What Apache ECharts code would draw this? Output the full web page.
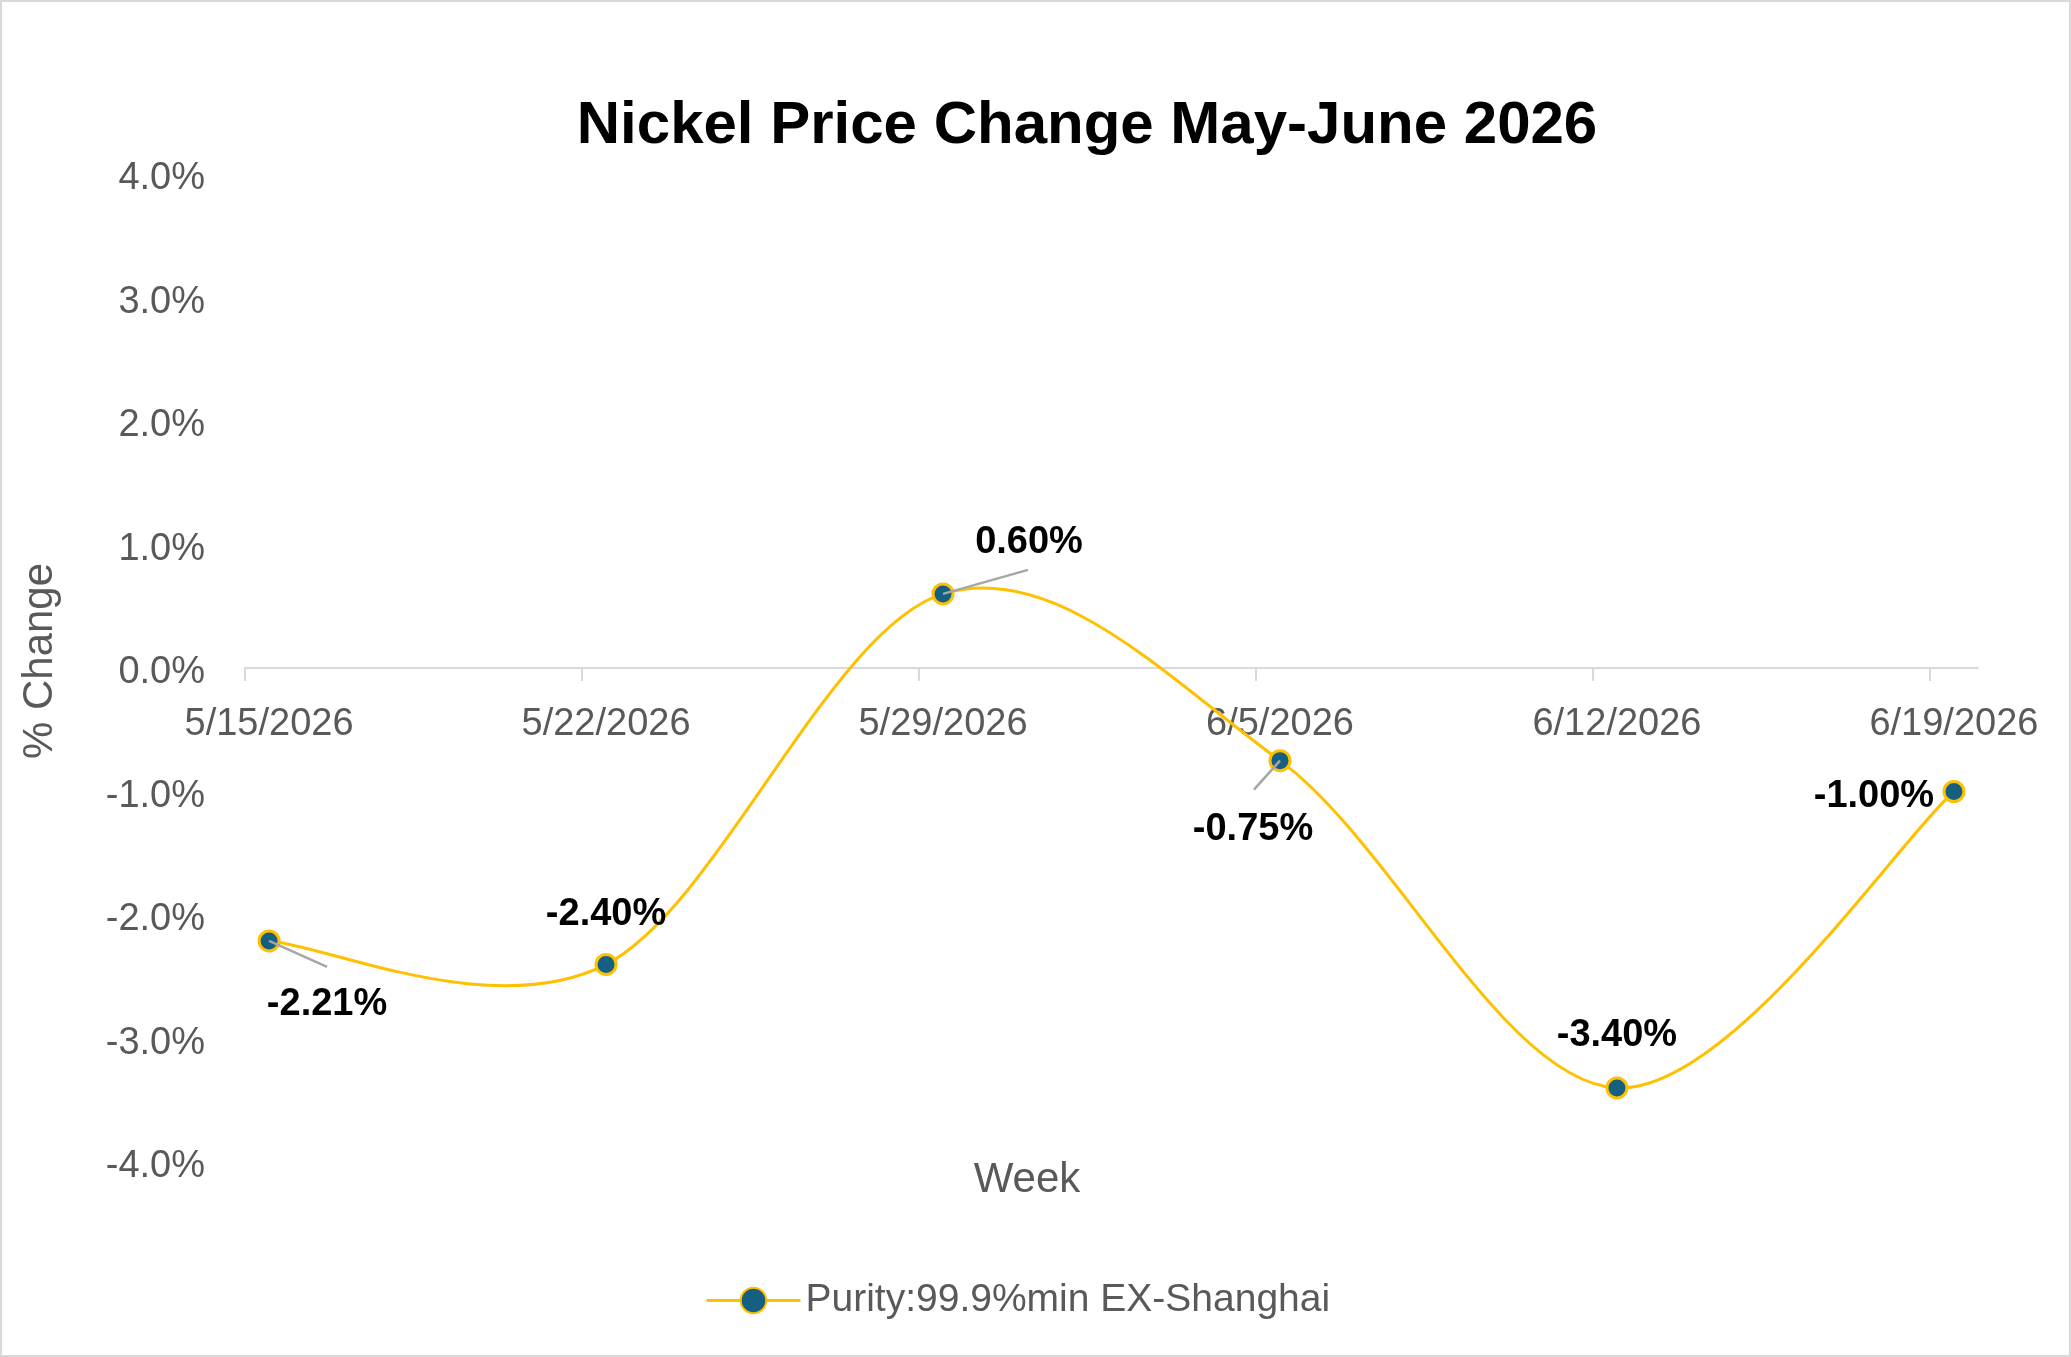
<!DOCTYPE html>
<html><head><meta charset="utf-8">
<script src="https://cdn.jsdelivr.net/npm/echarts@6/dist/echarts.min.js"></script>
<style>
html,body{margin:0;padding:0;background:#fff}
#c{position:absolute;left:0;top:0;width:2071px;height:1357px}
#frame{position:absolute;left:0;top:0;width:2071px;height:1357px;box-sizing:border-box;border:2px solid #d9d9d9;pointer-events:none}
</style>
</head><body><div id="c"></div><div id="frame"></div>
<script>
// ---- data ----
const weeks = ['5/15/2026', '5/22/2026', '5/29/2026', '6/5/2026', '6/12/2026', '6/19/2026'];
const changes = [-2.21, -2.40, 0.60, -0.75, -3.40, -1.00];
const yMin = -4, yMax = 4, yStep = 1;
const seriesName = 'Purity:99.9%min EX-Shanghai';
const chartTitle = 'Nickel Price Change May-June 2026';
const xTitle = 'Week';
const yTitle = '% Change';

// ---- layout (pixel offsets relative to each point) ----
const labelOffsets = [[58, 64], [0, -50], [86, -51], [-27, 69], [0, -52], [-80, 5]];
const leaderEnds = [[58, 26], null, [85, -24], [-26, 29], null, null];

function dayNum(s) { const p = s.split('/').map(Number); return Date.UTC(p[2], p[0] - 1, p[1]) / 86400000; }
const d0 = dayNum(weeks[0]);
const xs = weeks.map(w => dayNum(w) - d0);
const pts = xs.map((x, i) => [x, changes[i]]);

const FONT = '"Liberation Sans", Arial, sans-serif';
const GRAY = '#595959';
const GOLD = '#FFC000';
const TEAL = '#156082';

function clampIdx(k) { return Math.max(0, Math.min(pts.length - 1, k)); }

// Excel-like smoothed segment (Catmull-Rom style Bezier) drawn via the axes' scales
function renderCurve(params, api) {
  const i = params.dataIndex;
  if (i >= pts.length - 1) return null;
  const P = k => api.coord(pts[clampIdx(k)]);
  const p0 = P(i - 1), p1 = P(i), p2 = P(i + 1), p3 = P(i + 2);
  return {
    type: 'bezierCurve',
    shape: {
      x1: p1[0], y1: p1[1],
      cpx1: p1[0] + (p2[0] - p0[0]) / 6, cpy1: p1[1] + (p2[1] - p0[1]) / 6,
      cpx2: p2[0] - (p3[0] - p1[0]) / 6, cpy2: p2[1] - (p3[1] - p1[1]) / 6,
      x2: p2[0], y2: p2[1]
    },
    style: {stroke: GOLD, lineWidth: 3, fill: 'none'}
  };
}

function renderLeader(params, api) {
  const e = leaderEnds[params.dataIndex];
  if (!e) return null;
  const p = api.coord(pts[params.dataIndex]);
  return {
    type: 'line',
    shape: {x1: p[0], y1: p[1], x2: p[0] + e[0], y2: p[1] + e[1]},
    style: {stroke: '#A6A6A6', lineWidth: 2.5}
  };
}

const chart = echarts.init(document.getElementById('c'), null, {renderer: 'canvas'});
chart.setOption({
  animation: false,
  backgroundColor: '#fff',
  grid: {left: 245, right: 93, top: 174, bottom: 195, containLabel: false},
  xAxis: {
    type: 'value',
    min: -0.5,
    max: xs[xs.length - 1] + 0.5,
    splitLine: {show: false},
    axisLine: {show: true, onZero: false, lineStyle: {color: '#d9d9d9', width: 2}},
    axisTick: {show: true, length: 13, lineStyle: {color: '#d9d9d9', width: 2}, customValues: xs.map(x => x - 0.5)},
    axisLabel: {
      customValues: xs,
      margin: 38,
      fontSize: 38, color: GRAY, fontFamily: FONT,
      formatter: v => { const i = xs.indexOf(Math.round(v)); return i >= 0 ? weeks[i] : ''; }
    }
  },
  yAxis: {
    type: 'value', min: yMin, max: yMax, interval: yStep,
    splitLine: {show: false},
    axisLine: {show: false},
    axisTick: {show: false},
    axisLabel: {margin: 40, color: GRAY, fontFamily: FONT, fontSize: 38,
      formatter: v => '{t|' + v.toFixed(1) + '%}',
      rich: {t: {fontSize: 38, color: GRAY, fontFamily: FONT, padding: [10, 0, 0, 0]}}}
  },
  legend: {
    data: [seriesName],
    left: 700, top: 1276,
    itemWidth: 94, itemHeight: 32,
    lineStyle: {color: GOLD, width: 3, opacity: 1},
    textStyle: {fontSize: 39, color: GRAY, fontFamily: FONT}
  },
  graphic: [
    {type: 'text', x: 1087, y: 126, style: {text: chartTitle, font: 'bold 60px ' + FONT, fill: '#000', align: 'center', verticalAlign: 'middle'}},
    {type: 'text', x: 1027, y: 1180, style: {text: xTitle, font: '42px ' + FONT, fill: GRAY, align: 'center', verticalAlign: 'middle'}},
    {type: 'text', x: 40, y: 661, rotation: Math.PI / 2, style: {text: yTitle, font: '42px ' + FONT, fill: GRAY, align: 'center', verticalAlign: 'middle'}}
  ],
  series: [
    {
      name: 'curve', type: 'custom', z: 1, silent: true,
      renderItem: renderCurve,
      encode: {x: 0, y: 1},
      data: pts
    },
    {
      name: seriesName,
      type: 'line', z: 2,
      symbol: 'circle',
      symbolSize: 20,
      lineStyle: {color: GOLD, width: 3, opacity: 0},
      itemStyle: {color: TEAL, borderColor: GOLD, borderWidth: 3},
      label: {show: true, position: 'inside', fontSize: 38, fontWeight: 'bold', color: '#000', fontFamily: FONT,
        formatter: p => p.value[1].toFixed(2) + '%'},
      labelLayout: p => ({dx: labelOffsets[p.dataIndex][0], dy: labelOffsets[p.dataIndex][1]}),
      data: pts
    },
    {
      name: 'leaders', type: 'custom', z: 3, silent: true,
      renderItem: renderLeader,
      encode: {x: 0, y: 1},
      data: pts
    }
  ]
});

// place the date axis (line, ticks, labels) at the zero value, via the y scale
const yZero = chart.convertToPixel({yAxisIndex: 0}, 0);
const yBottom = chart.convertToPixel({yAxisIndex: 0}, yMin);
chart.setOption({xAxis: {offset: -(yBottom - yZero)}});
</script>
</body></html>
